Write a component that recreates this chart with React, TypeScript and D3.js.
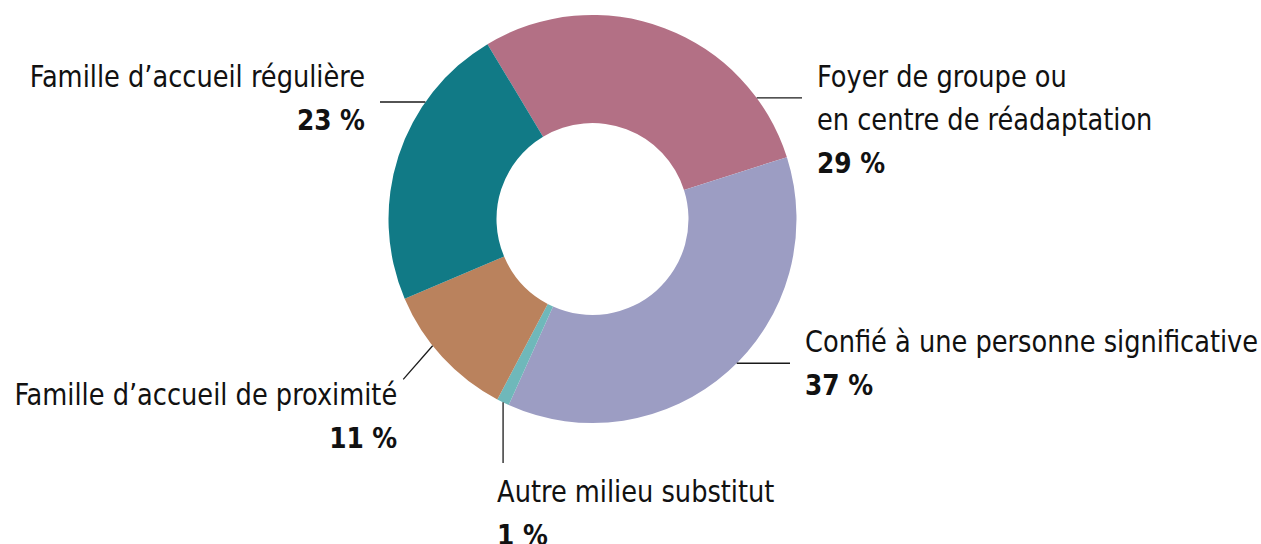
import React from "react";
import * as d3 from "d3";

// ---- data ----
const categories: string[][] = [
  ["Foyer de groupe ou", "en centre de réadaptation"],
  ["Confié à une personne significative"],
  ["Autre milieu substitut"],
  ["Famille d\u2019accueil de proximité"],
  ["Famille d\u2019accueil régulière"],
];
const values: number[] = [29, 37, 1, 11, 23];
const valueLabels: string[] = ["29 %", "37 %", "1 %", "11 %", "23 %"];
const colors: string[] = ["#B37085", "#9C9DC3", "#6FB8BA", "#BA825D", "#117A86"];

// ---- layout ----
const W = 1261;
const H = 544;
const CX = 592.5;
const CY = 219;
const R_OUT = 204;
const R_IN = 96;
const START_DEG = -31;
const FONT = "'DejaVu Sans Condensed', 'Liberation Sans Narrow', 'Roboto', sans-serif";
const FS = 30;
const FS_BOLD = 29;
const SX = 0.952;
const LINE_H = 43;

type LabelLayout = {
  angle: number; // degrees, clockwise from 12 o'clock
  kind: "h" | "v" | "free";
  to: number; // end x (h) or end y (v)
  end?: [number, number]; // offsets for "free"
  anchor: "start" | "end";
  dx: number;
  dy: number;
};

const labelLayout: LabelLayout[] = [
  { angle: 53.6, kind: "h", to: 802, anchor: "start", dx: 15, dy: -11 },
  { angle: 135, kind: "h", to: 790, anchor: "start", dx: 15, dy: -11 },
  { angle: 206, kind: "v", to: 463, anchor: "start", dx: -6, dy: 39 },
  { angle: 231.6, kind: "free", to: 0, end: [-29.4, 33.6], anchor: "end", dx: -6, dy: 26 },
  { angle: 305, kind: "h", to: 380, anchor: "end", dx: -15, dy: -15 },
];

export default function App() {
  const pie = d3
    .pie<number>()
    .sort(null)
    .value((d) => d)
    .startAngle((START_DEG * Math.PI) / 180)
    .endAngle((START_DEG * Math.PI) / 180 + 2 * Math.PI);
  const arcs = pie(values);
  const arc = d3
    .arc<d3.PieArcDatum<number>>()
    .innerRadius(R_IN)
    .outerRadius(R_OUT);

  const point = (deg: number, r: number): [number, number] => {
    const a = (deg * Math.PI) / 180;
    return [CX + r * Math.sin(a), CY - r * Math.cos(a)];
  };

  return (
    <svg
      width={W}
      height={H}
      style={{ position: "absolute", left: 0, top: 0, background: "#fff" }}
      fontFamily={FONT}
    >
      <g transform={`translate(${CX},${CY})`}>
        {arcs.map((a, i) => (
          <path key={i} d={arc(a) || ""} fill={colors[i]} />
        ))}
      </g>
      {labelLayout.map((L, i) => {
        const [x0, y0] = point(L.angle, R_OUT);
        let x1 = x0;
        let y1 = y0;
        if (L.kind === "h") {
          x1 = L.to;
        } else if (L.kind === "v") {
          y1 = L.to;
        } else if (L.end) {
          x1 = x0 + L.end[0];
          y1 = y0 + L.end[1];
        }
        const tx = x1 + L.dx;
        const ty = y1 + L.dy;
        const lines = categories[i];
        return (
          <g key={i}>
            <line x1={x0} y1={y0} x2={x1} y2={y1} stroke="#1a1a1a" strokeWidth={1.3} />
            <g transform={`translate(${tx},${ty}) scale(${SX},1)`}>
              <text x={0} y={0} textAnchor={L.anchor} fontSize={FS} fill="#111">
                {lines.map((t, j) => (
                  <tspan key={j} x={0} y={j * LINE_H}>
                    {t}
                  </tspan>
                ))}
                <tspan x={0} y={lines.length * LINE_H} fontWeight="bold" fontSize={FS_BOLD}>
                  {valueLabels[i]}
                </tspan>
              </text>
            </g>
          </g>
        );
      })}
    </svg>
  );
}
